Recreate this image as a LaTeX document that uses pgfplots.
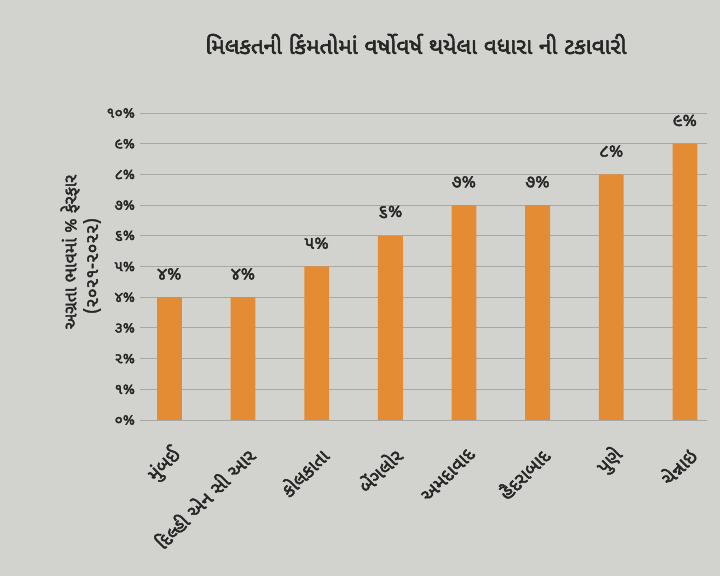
\documentclass[border=0pt]{standalone}
\usepackage{fontspec}
\usepackage{pgfplots}
\pgfplotsset{compat=1.18}
\setmainfont[Script=Gujarati,AutoFakeBold=2.5]{Noto Sans Gujarati UI}
\definecolor{pagegray}{RGB}{210,210,207}
\definecolor{barorange}{RGB}{228,140,52}
\definecolor{gridgray}{RGB}{168,168,166}
\definecolor{txt}{RGB}{38,38,38}
\begin{document}
\begin{tikzpicture}
\fill[pagegray] (0,0) rectangle (18cm,14.4cm);
\node[font=\bfseries\fontsize{16}{19}\selectfont, text=txt] at (10.4cm,13.3cm) {મિલકતની કિંમતોમાં વર્ષોવર્ષ થયેલા વધારા ની ટકાવારી};
\node[rotate=90, font=\bfseries\fontsize{12.5}{15}\selectfont, text=txt] at (1.75cm,8.1cm) {અગ્રતા ભાવમાં \% ફેરફાર};
\node[rotate=90, font=\bfseries\fontsize{12.5}{15}\selectfont, text=txt] at (2.3cm,7.75cm) {(૨૦૨૧-૨૦૨૨)};
\begin{axis}[
  at={(3.5cm,3.9cm)}, anchor=south west,
  scale only axis, width=14.175cm, height=7.675cm,
  xmin=-0.4, xmax=7.3, ymin=0, ymax=10,
  axis line style={draw=none},
  major tick length=0pt,
  ymajorgrids, grid style={gridgray, line width=0.7pt},
  ytick={0,1,2,3,4,5,6,7,8,9,10},
  yticklabels={૦\%,૧\%,૨\%,૩\%,૪\%,૫\%,૬\%,૭\%,૮\%,૯\%,૧૦\%},
  yticklabel style={font=\bfseries\fontsize{10.5}{12}\selectfont, text=txt},
  xtick={0,1,2,3,4,5,6,7},
  xticklabels={મુંબઈ,દિલ્હી એન સી આર,કોલકાતા,બેંગલોર,અમદાવાદ,હૈદરાબાદ,પુણે,ચેન્નાઇ},
  xticklabel style={font=\bfseries\fontsize{13.5}{15}\selectfont, text=txt, xshift=8pt, yshift=-20pt, rotate=45, anchor=east},
  ybar, bar width=0.62cm,
  point meta=explicit symbolic,
  nodes near coords,
  nodes near coords style={font=\bfseries\fontsize{12.5}{14}\selectfont, text=txt, yshift=9pt},
]
\addplot[fill=barorange, draw=none] coordinates {
  (0,4) [૪\%]
  (1,4) [૪\%]
  (2,5) [૫\%]
  (3,6) [૬\%]
  (4,7) [૭\%]
  (5,7) [૭\%]
  (6,8) [૮\%]
  (7,9) [૯\%]
};
\end{axis}
\end{tikzpicture}
\end{document}
